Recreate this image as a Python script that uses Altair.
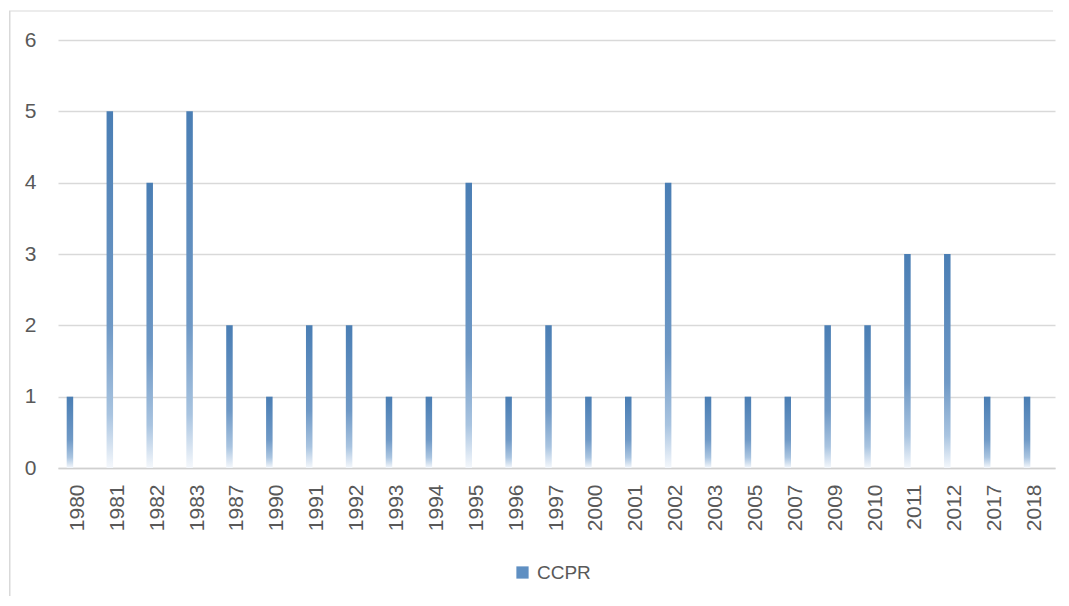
import altair as alt
import pandas as pd

years = ["1980", "1981", "1982", "1983", "1987", "1990", "1991", "1992", "1993",
         "1994", "1995", "1996", "1997", "2000", "2001", "2002", "2003", "2005",
         "2007", "2009", "2010", "2011", "2012", "2017", "2018"]
values = [1, 5, 4, 5, 2, 1, 2, 2, 1, 1, 4, 1, 2, 1, 1, 4, 1, 1, 1, 2, 2, 3, 3, 1, 1]
series_name = "CCPR"
y_ticks = [0, 1, 2, 3, 4, 5, 6]

df = pd.DataFrame({"year": years, "value": values, "series": series_name})

FONT = "Liberation Sans"
TXT = "#595959"
GRID = "#d9d9d9"

gradient = alt.Gradient(
    gradient="linear", x1=0, y1=0, x2=0, y2=1,
    stops=[
        alt.GradientStop(offset=0, color="#4a7eb4"),
        alt.GradientStop(offset=0.6, color="#6f99c6"),
        alt.GradientStop(offset=0.85, color="#a9c4e0"),
        alt.GradientStop(offset=1, color="#f5f8fc"),
    ],
)

x_enc = alt.X(
    "year:N", sort=years, title=None,
    scale=alt.Scale(paddingInner=0, paddingOuter=0),
    axis=alt.Axis(labelAngle=-90, labelFontSize=21, labelColor=TXT, labelFont=FONT,
                  ticks=False, domainColor="#d0d0d0", domainWidth=1.5,
                  labelPadding=16, grid=False),
)
y_enc = alt.Y(
    "value:Q", title=None,
    scale=alt.Scale(domain=[0, 6], nice=False),
    axis=alt.Axis(values=y_ticks, format="d", labelFontSize=21, labelColor=TXT,
                  labelFont=FONT, ticks=False, domain=False, gridColor=GRID,
                  gridWidth=1.3, labelPadding=22),
)

base = alt.Chart(df)

bars = base.mark_bar(fill=gradient, size=6.5, xOffset=-8).encode(x=x_enc, y=y_enc)

legend_layer = base.mark_square(opacity=0, size=10).encode(
    x=alt.X("year:N", sort=years),
    y=alt.Y("value:Q"),
    color=alt.Color(
        "series:N",
        scale=alt.Scale(range=["#5f8fc2"]),
        legend=alt.Legend(
            title=None, orient="none", legendX=455, legendY=523,
            symbolType="square", symbolSize=150, symbolOpacity=1,
            symbolStrokeWidth=0, labelFontSize=19, labelColor=TXT,
            labelFont=FONT, labelOffset=5,
        ),
    ),
)

frame_df = pd.DataFrame({"k": [0]})
top_border = alt.Chart(frame_df).mark_rect(color=GRID).encode(
    x=alt.value(-49), x2=alt.value(995), y=alt.value(-29.6), y2=alt.value(-28.4)
)
left_border = alt.Chart(frame_df).mark_rect(color=GRID).encode(
    x=alt.value(-49), x2=alt.value(-47.5), y=alt.value(-29), y2=alt.value(556)
)

chart = alt.layer(top_border, left_border, bars, legend_layer).properties(
    width=997, height=428,
    padding={"left": 50, "top": 32, "right": 6, "bottom": 128},
    autosize="none",
    background="white",
).configure_view(stroke=None)

chart.save("out.html", embed_options={"renderer": "svg", "actions": False})
